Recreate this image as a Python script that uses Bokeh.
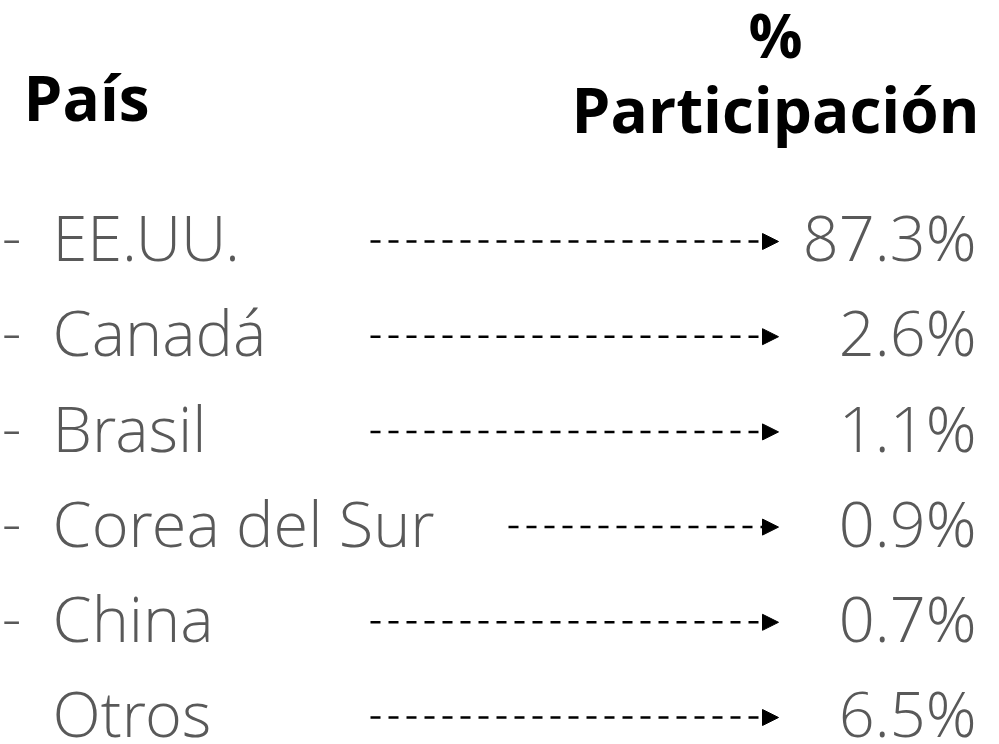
from bokeh.plotting import figure
from bokeh.models import ColumnDataSource, Range1d, Arrow, NormalHead
from bokeh.core.properties import value
from bokeh.embed import file_html
from bokeh.resources import INLINE

# ---- data ----
paises = ["EE.UU.", "Canadá", "Brasil", "Corea del Sur", "China", "Otros"]
participacion = [87.3, 2.6, 1.1, 0.9, 0.7, 6.5]
con_guion = [True, True, True, True, True, False]
titulo_pais = "País"
titulo_pct_1 = "%"
titulo_pct_2 = "Participación"

# ---- layout (picture-pixel coordinates) ----
W, H = 999, 744
FONT = "Open Sans Light"
FONT_B = "Open Sans"
GRAY = "#595959"
FS = 63            # row font size
FIX = 0.41         # baseline correction (fraction of font size)
row_base0 = 262
row_step = 95.2
arrow_start = [370, 370, 370, 508, 370, 370]
arrow_end = 778
value_right = 976
label_x = 52


def base(y, fs):
    return y - FIX * fs


p = figure(width=W, height=H, output_backend="svg", toolbar_location=None,
           x_range=Range1d(0, W), y_range=Range1d(H, 0),
           min_border=0, outline_line_color=None)
p.axis.visible = False
p.grid.visible = False
p.background_fill_color = "white"

# headers
p.text(x=[23], y=[base(122, 62)], text=[titulo_pais], text_font=value(FONT_B),
       text_font_style="bold", text_font_size="62px", text_color="black",
       text_baseline="alphabetic", text_align="left")
p.text(x=[775], y=[base(59, 60)], text=[titulo_pct_1], text_font=value(FONT_B),
       text_font_style="bold", text_font_size="60px", text_color="black",
       text_baseline="alphabetic", text_align="center")
p.text(x=[775], y=[base(134, 62)], text=[titulo_pct_2], text_font=value(FONT_B),
       text_font_style="bold", text_font_size="62px", text_color="black",
       text_baseline="alphabetic", text_align="center")

bl = [row_base0 + i * row_step for i in range(len(paises))]
src = ColumnDataSource(dict(
    y=[base(b, FS) for b in bl],
    ya=[b - 21 for b in bl],
    pais=paises,
    val=[f"{v:.1f}%" for v in participacion],
    x0=arrow_start,
    x1=[arrow_end] * len(paises),
    vx=[value_right] * len(paises),
    lx=[label_x] * len(paises),
))

dash_y = [base(b, FS) for b, g in zip(bl, con_guion) if g]
p.text(x=[1] * len(dash_y), y=dash_y, text=["-"] * len(dash_y),
       text_font=value(FONT), text_font_size=f"{FS}px", text_color=GRAY,
       text_baseline="alphabetic", text_align="left")

p.text(x="lx", y="y", text="pais", source=src, text_font=value(FONT),
       text_font_size=f"{FS}px", text_color=GRAY, text_baseline="alphabetic",
       text_align="left")
p.text(x="vx", y="y", text="val", source=src, text_font=value(FONT),
       text_font_size=f"{FS}px", text_color=GRAY, text_baseline="alphabetic",
       text_align="right")

p.add_layout(Arrow(x_start="x0", y_start="ya", x_end="x1", y_end="ya",
                   source=src, line_color="black", line_width=2.5,
                   line_dash="10 8",
                   end=NormalHead(size=16, fill_color="black",
                                  line_color="black", line_width=1)))

open("out.html", "w").write(file_html(p, INLINE))
